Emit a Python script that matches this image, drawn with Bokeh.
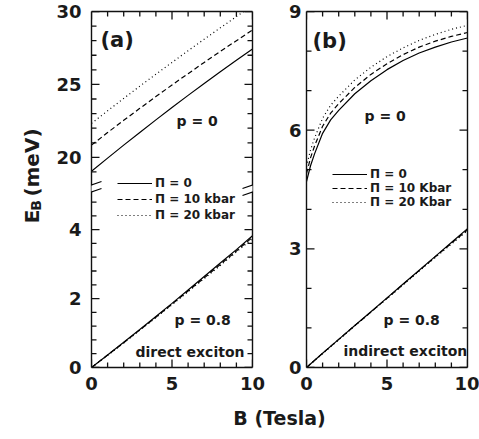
import numpy as np
from bokeh.plotting import figure
from bokeh.models import (LinearAxis, FixedTicker, CustomJSTickFormatter, Label, Legend,
                          LegendItem, Range1d, PolyAnnotation, Arrow)
from bokeh.layouts import column, row
from bokeh.embed import file_html
from bokeh.resources import INLINE

FONT = "DejaVu Sans"

# ---------------- data ----------------
B_a = [0, 1, 2, 3, 4, 5, 6, 7, 8, 9, 10]
a_p0_pi0 = [19.05, 19.95, 20.84, 21.71, 22.57, 23.42, 24.25, 25.07, 25.87, 26.66, 27.43]
a_p0_pi10 = [20.84, 21.70, 22.54, 23.36, 24.17, 24.96, 25.74, 26.51, 27.26, 28.00, 28.73]
a_p0_pi20 = [22.33, 23.19, 24.04, 24.88, 25.70, 26.51, 27.31, 28.10, 28.88, 29.65, 30.41]
a_p08_pi0 = [0.0, 0.36, 0.73, 1.10, 1.48, 1.86, 2.25, 2.64, 3.03, 3.42, 3.82]
a_p08_pi10 = [0.0, 0.36, 0.72, 1.09, 1.46, 1.84, 2.22, 2.60, 2.99, 3.38, 3.78]
a_p08_pi20 = [0.0, 0.35, 0.71, 1.08, 1.45, 1.82, 2.20, 2.58, 2.96, 3.35, 3.74]

B_b_up = [0, 0.25, 0.5, 1, 1.5, 2, 3, 4, 5, 6, 7, 8, 9, 10]
b_p0_pi0 = [4.70, 5.10, 5.40, 5.92, 6.26, 6.50, 6.92, 7.25, 7.53, 7.76, 7.95, 8.10, 8.23, 8.33]
b_p0_pi10 = [4.90, 5.30, 5.60, 6.10, 6.43, 6.67, 7.08, 7.41, 7.68, 7.91, 8.10, 8.25, 8.37, 8.47]
b_p0_pi20 = [5.08, 5.50, 5.80, 6.30, 6.63, 6.86, 7.27, 7.59, 7.86, 8.08, 8.27, 8.42, 8.55, 8.65]
B_b_lo = [0, 1, 2, 3, 4, 5, 6, 7, 8, 9, 10]
b_p08_pi0 = [0.0, 0.36, 0.71, 1.06, 1.41, 1.76, 2.11, 2.46, 2.81, 3.16, 3.51]
b_p08_pi10 = [0.0, 0.36, 0.71, 1.06, 1.40, 1.75, 2.10, 2.45, 2.80, 3.14, 3.48]
b_p08_pi20 = [0.0, 0.35, 0.70, 1.05, 1.40, 1.74, 2.09, 2.44, 2.78, 3.12, 3.46]

legend_a = ["Π = 0", "Π = 10 kbar", "Π = 20 kbar"]
legend_b = ["Π = 0", "Π = 10 Kbar", "Π = 20 Kbar"]
x_major = [0, 5, 10]
x_minor = [1, 2, 3, 4, 6, 7, 8, 9]
ya_major_lo = [0, 2, 4]
ya_minor_lo = [0.4, 0.8, 1.2, 1.6, 2.4, 2.8, 3.2, 3.6, 4.4, 4.8]
ya_major_hi = [20, 25, 30]
ya_minor_hi = [19, 21, 22, 23, 24, 26, 27, 28, 29]
yb_major = [0, 3, 6, 9]
yb_minor = [1, 2, 4, 5, 7, 8]

BREAK_LO = 5.25
BREAK_HI = 18.0
UP_SCALE = 14.6 / 34.5


def a_map(v):
    v = np.asarray(v, dtype=float)
    return np.where(v >= BREAK_HI - 1e-9, BREAK_LO + (v - BREAK_HI) * UP_SCALE, v)


YTOP_A = float(a_map(30))
TOP_H = 400
LEFT_W = 46
FRAME_W = 161
FRAME_L_A, FRAME_L_B, FRAME_T, FRAME_B = 91, 306, 11, 367
FRAME_H = FRAME_B - FRAME_T
XS = FRAME_W / 10.0
YS_A = FRAME_H / YTOP_A
YS_B = FRAME_H / 9.0


def ax(px): return (px - FRAME_L_A) / XS
def ay(py): return (FRAME_B - py) / YS_A
def bx(px): return (px - FRAME_L_B) / XS
def by(py): return (FRAME_B - py) / YS_B


def style_axis(axis, labels=True, standoff=8):
    axis.axis_line_color = "#111111"
    axis.axis_line_width = 1.4
    axis.major_tick_in = 0
    axis.major_tick_out = 0
    axis.minor_tick_in = 0
    axis.minor_tick_out = 0
    axis.major_tick_line_color = None
    axis.minor_tick_line_color = None
    if labels:
        axis.major_label_text_font = FONT
        axis.major_label_text_font_style = "bold"
        axis.major_label_text_font_size = "18px"
        axis.major_label_text_color = "#1a1a1a"
        axis.major_label_standoff = standoff
    else:
        axis.formatter = CustomJSTickFormatter(code="return '';")
        axis.major_label_text_font_size = "1px"
        axis.major_label_standoff = 0


def inward_ticks(p, xmaj, xmin, ymaj, ymin, xhi, yhi, ys):
    """Tick marks pointing into the frame, at the tick values (lengths 8 / 5 px)."""
    for vals, ln in ((xmaj, 8), (xmin, 5)):
        n = len(vals)
        dy = ln / ys
        p.segment(x0=list(vals), y0=[0.0] * n, x1=list(vals), y1=[dy] * n,
                  line_color="#111111", line_width=1.3)
        p.segment(x0=list(vals), y0=[yhi] * n, x1=list(vals), y1=[yhi - dy] * n,
                  line_color="#111111", line_width=1.3)
    for vals, ln in ((ymaj, 8), (ymin, 5)):
        n = len(vals)
        dx = ln / XS
        p.segment(x0=[0.0] * n, y0=list(vals), x1=[dx] * n, y1=list(vals),
                  line_color="#111111", line_width=1.3)
        p.segment(x0=[xhi] * n, y0=list(vals), x1=[xhi - dx] * n, y1=list(vals),
                  line_color="#111111", line_width=1.3)


def lbl(x, y, text, size, align="left", baseline="alphabetic", angle=0.0):
    return Label(x=x, y=y, text=text, text_font=FONT, text_font_style="bold",
                 text_font_size=size, text_color="#1a1a1a", text_align=align,
                 text_baseline=baseline, angle=angle)


def make_fig(width, border_left, border_right, y_end):
    p = figure(width=width, height=TOP_H, output_backend="svg", toolbar_location=None,
               x_range=Range1d(0, 10), y_range=Range1d(0, y_end),
               x_axis_location=None, y_axis_location=None,
               min_border_left=border_left, min_border_right=border_right,
               min_border_top=FRAME_T, min_border_bottom=TOP_H - FRAME_B)
    p.outline_line_color = None
    p.xgrid.visible = False
    p.ygrid.visible = False
    p.background_fill_color = "white"
    p.border_fill_color = "white"
    return p


def make_legend(items, loc, spacing):
    return Legend(items=items, location=loc, glyph_width=35, glyph_height=12,
                  label_height=12, label_standoff=3, spacing=spacing, padding=0, margin=0,
                  border_line_color=None, background_fill_alpha=0,
                  label_text_font=FONT, label_text_font_style="bold",
                  label_text_font_size="12px", label_text_color="#1a1a1a")


DASH = "5 3"
DOT = "1 3"
LW = 1.2

# ---------------- y-axis title column ----------------
py_ = figure(width=LEFT_W, height=TOP_H, output_backend="svg", toolbar_location=None,
             x_range=Range1d(0, LEFT_W), y_range=Range1d(0, TOP_H),
             x_axis_location=None, y_axis_location=None, min_border=0)
py_.outline_line_color = None
py_.xgrid.visible = False
py_.ygrid.visible = False
py_.add_layout(lbl(31, TOP_H - 238, "E", "20px", angle=np.pi / 2))
py_.add_layout(lbl(35, TOP_H - 224, "B", "14px", angle=np.pi / 2))
py_.add_layout(lbl(31, TOP_H - 208, "(meV)", "20px", angle=np.pi / 2))

# ---------------- panel (a) ----------------
pa = make_fig(279 - LEFT_W, FRAME_L_A - LEFT_W, 27, YTOP_A)
ya_major = list(ya_major_lo) + [float(t) for t in a_map(ya_major_hi)]
ya_minor = list(ya_minor_lo) + [float(t) for t in a_map(ya_minor_hi)]
xa_tick = FixedTicker(ticks=x_major, minor_ticks=x_minor)
ya_tick = FixedTicker(ticks=ya_major, minor_ticks=ya_minor)
ya_fmt = CustomJSTickFormatter(args=dict(lo=BREAK_LO, hi=BREAK_HI, s=UP_SCALE), code="""
if (tick > lo + 1e-6) { return String(Math.round(hi + (tick - lo) / s)); }
return String(Math.round(tick));
""")
for side, kind in (("below", "x"), ("above", "x"), ("left", "y"), ("right", "y")):
    axis = LinearAxis(ticker=xa_tick if kind == "x" else ya_tick)
    if side in ("below", "left"):
        style_axis(axis, True, 9 if side == "below" else 10)
        if side == "left":
            axis.formatter = ya_fmt
    else:
        style_axis(axis, False)
    pa.add_layout(axis, side)

inward_ticks(pa, x_major, x_minor, ya_major, ya_minor, 10, YTOP_A, YS_A)

ra1 = pa.line(B_a, a_map(a_p0_pi0), line_color="black", line_width=LW)
ra2 = pa.line(B_a, a_map(a_p0_pi10), line_color="black", line_width=LW, line_dash=DASH)
ra3 = pa.line(B_a, a_map(a_p0_pi20), line_color="black", line_width=LW, line_dash=DOT)
pa.line(B_a, a_p08_pi20, line_color="black", line_width=LW, line_dash=DOT)
pa.line(B_a, a_p08_pi10, line_color="black", line_width=LW, line_dash=DASH)
pa.line(B_a, a_p08_pi0, line_color="black", line_width=LW)

pa.add_layout(make_legend([LegendItem(label=legend_a[0], renderers=[ra1]),
                           LegendItem(label=legend_a[1], renderers=[ra2]),
                           LegendItem(label=legend_a[2], renderers=[ra3])],
                          (26, FRAME_B - 222), 2))

pa.add_layout(lbl(ax(100), ay(39), "(a)", "21px"))
pa.add_layout(lbl(ax(176), ay(120), "p = 0", "14px"))
pa.add_layout(lbl(ax(174), ay(319), "p = 0.8", "14px"))
pa.add_layout(lbl(ax(135), ay(351), "direct exciton", "14px"))

# axis-break marks
for cx in (FRAME_L_A, FRAME_L_A + FRAME_W):
    pa.add_layout(PolyAnnotation(xs=[ax(cx - 3), ax(cx + 3), ax(cx + 3), ax(cx - 3)],
                                 ys=[ay(185.5), ay(184.5), ay(190.5), ay(191.5)],
                                 fill_color="white", fill_alpha=1.0, line_color=None))
    for off in (0, 7):
        pa.add_layout(Arrow(end=None, x_start=ax(cx - 10), y_start=ay(188 + off),
                            x_end=ax(cx + 10), y_end=ay(181 + off),
                            line_color="black", line_width=1.2))

# ---------------- panel (b) ----------------
pb = make_fig(200, 27, 12, 9)
xb_tick = FixedTicker(ticks=x_major, minor_ticks=x_minor)
yb_tick = FixedTicker(ticks=yb_major, minor_ticks=yb_minor)
for side, kind in (("below", "x"), ("above", "x"), ("left", "y"), ("right", "y")):
    axis = LinearAxis(ticker=xb_tick if kind == "x" else yb_tick)
    if side in ("below", "left"):
        style_axis(axis, True, 9 if side == "below" else 5)
    else:
        style_axis(axis, False)
    pb.add_layout(axis, side)

inward_ticks(pb, x_major, x_minor, yb_major, yb_minor, 10, 9, YS_B)

rb1 = pb.line(B_b_up, b_p0_pi0, line_color="black", line_width=LW)
rb2 = pb.line(B_b_up, b_p0_pi10, line_color="black", line_width=LW, line_dash=DASH)
rb3 = pb.line(B_b_up, b_p0_pi20, line_color="black", line_width=LW, line_dash=DOT)
pb.line(B_b_lo, b_p08_pi20, line_color="black", line_width=LW, line_dash=DOT)
pb.line(B_b_lo, b_p08_pi10, line_color="black", line_width=LW, line_dash=DASH)
pb.line(B_b_lo, b_p08_pi0, line_color="black", line_width=LW)

pb.add_layout(make_legend([LegendItem(label=legend_b[0], renderers=[rb1]),
                           LegendItem(label=legend_b[1], renderers=[rb2]),
                           LegendItem(label=legend_b[2], renderers=[rb3])],
                          (26, FRAME_B - 209), 0))

pb.add_layout(lbl(bx(312), by(40), "(b)", "21px"))
pb.add_layout(lbl(bx(364), by(115), "p = 0", "14px"))
pb.add_layout(lbl(bx(383), by(319), "p = 0.8", "14px"))
pb.add_layout(lbl(bx(343), by(350), "indirect exciton", "14px"))

# ---------------- shared x-axis title ----------------
pl = figure(width=479, height=439 - TOP_H, output_backend="svg", toolbar_location=None,
            x_range=Range1d(0, 479), y_range=Range1d(0, 439 - TOP_H),
            x_axis_location=None, y_axis_location=None, min_border=0)
pl.outline_line_color = None
pl.xgrid.visible = False
pl.ygrid.visible = False
pl.add_layout(lbl(279, (439 - TOP_H) - 17, "B (Tesla)", "19px", align="center"))

layout = column(row(py_, pa, pb), pl)
open("out.html", "w").write(file_html(layout, INLINE))
